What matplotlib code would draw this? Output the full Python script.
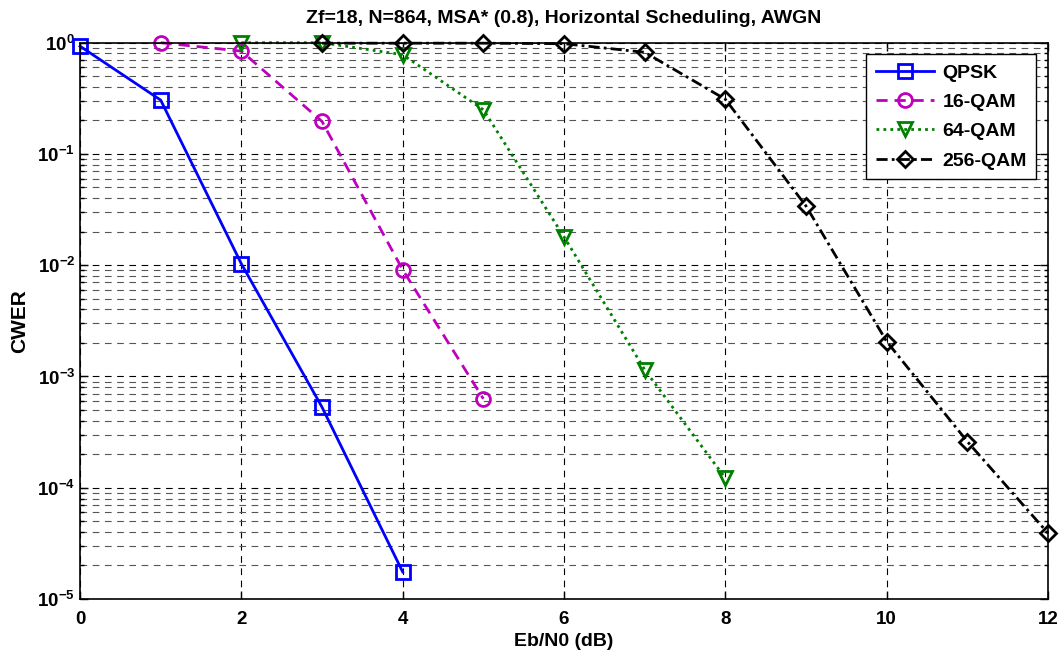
import numpy as np
import matplotlib.pyplot as plt
from matplotlib.ticker import LogLocator, NullFormatter

plt.rcParams['font.family'] = ['Liberation Sans', 'DejaVu Sans']
plt.rcParams['font.weight'] = 'bold'
plt.rcParams['mathtext.fontset'] = 'custom'
plt.rcParams['mathtext.rm'] = 'Liberation Sans:bold'
plt.rcParams['mathtext.bf'] = 'Liberation Sans:bold'
plt.rcParams['mathtext.it'] = 'Liberation Sans:bold'
plt.rcParams['axes.unicode_minus'] = False

# data
ebn0_qpsk = [0, 1, 2, 3, 4]
cwer_qpsk = [0.93, 0.305, 0.0103, 5.3e-4, 1.75e-5]

ebn0_16qam = [1, 2, 3, 4, 5]
cwer_16qam = [1.0, 0.84, 0.196, 0.0091, 6.3e-4]

ebn0_64qam = [2, 3, 4, 5, 6, 7, 8]
cwer_64qam = [1.0, 1.0, 0.78, 0.25, 0.018, 0.00115, 1.22e-4]

ebn0_256qam = [3, 4, 5, 6, 7, 8, 9, 10, 11, 12]
cwer_256qam = [0.99, 0.99, 0.99, 0.98, 0.82, 0.31, 0.034, 0.00206, 2.6e-4, 3.9e-5]

labels = ['QPSK', '16-QAM', '64-QAM', '256-QAM']

fig = plt.figure(figsize=(10.64, 6.57), dpi=100)
ax = fig.add_axes([0.0752, 0.0883, 0.9098, 0.8467])

mk = dict(markersize=10, markerfacecolor='none', markeredgewidth=2, linewidth=2, clip_on=False)
ax.plot(ebn0_qpsk, cwer_qpsk, '-', marker='s', color='#0000ff', label=labels[0], **mk)
ax.plot(ebn0_16qam, cwer_16qam, marker='o', color='#bf00bf', label=labels[1],
        linestyle=(0, (4, 2.5)), **mk)
ax.plot(ebn0_64qam, cwer_64qam, marker='v', color='#008000', label=labels[2],
        linestyle=(0, (1, 1.5)), **mk)
ax.plot(ebn0_256qam, cwer_256qam, marker='D', color='black', label=labels[3],
        linestyle=(0, (4, 1.5, 1, 1.5)),
        markersize=8, markerfacecolor='none', markeredgewidth=2, linewidth=2, clip_on=False)

ax.set_yscale('log')
ax.set_xlim(0, 12)
ax.set_ylim(1e-5, 1)
ax.set_xticks(range(0, 13, 2))
ax.set_yticks([1e-5, 1e-4, 1e-3, 1e-2, 1e-1, 1])
ax.set_yticklabels([r'$10^{-5}$', r'$10^{-4}$', r'$10^{-3}$', r'$10^{-2}$', r'$10^{-1}$', r'$10^{0}$'])
ax.yaxis.set_minor_locator(LogLocator(base=10, subs=np.arange(2, 10), numticks=20))
ax.yaxis.set_minor_formatter(NullFormatter())

ax.tick_params(which='both', direction='in', top=True, right=True, labelsize=13.5)
ax.tick_params(which='major', length=6, width=1)
ax.tick_params(which='minor', length=3, width=1)
ax.tick_params(axis='x', pad=9)

ax.grid(True, which='major', axis='both', color='black', linestyle=(0, (6, 5)), linewidth=0.8)
ax.grid(True, which='minor', axis='y', color='#555555', linestyle=(0, (6, 5)), linewidth=0.8)

for s in ax.spines.values():
    s.set_linewidth(1.2)

ax.set_xlabel('Eb/N0 (dB)', fontsize=14, fontweight='bold', labelpad=3)
ax.set_ylabel('CWER', fontsize=15, fontweight='bold', labelpad=6)
ax.set_title('Zf=18, N=864, MSA* (0.8), Horizontal Scheduling, AWGN',
             fontsize=14, fontweight='bold', pad=14)

leg = ax.legend(loc='upper right', fontsize=14, frameon=True, fancybox=False,
                edgecolor='black', framealpha=1, handlelength=3.0, handletextpad=0.4,
                borderaxespad=0.6, labelspacing=0.6, borderpad=0.5)
leg.get_frame().set_linewidth(1.0)

fig.savefig('out.png', dpi=100)
